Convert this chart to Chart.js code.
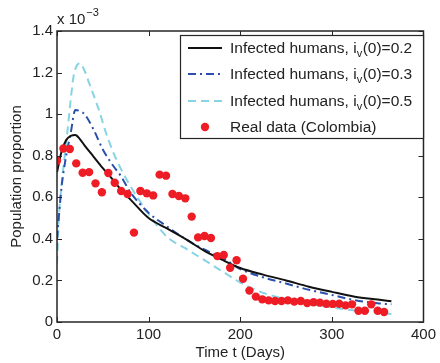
<!DOCTYPE html>
<html>
<head>
<meta charset="utf-8">
<script src="https://cdn.jsdelivr.net/npm/chart.js@4.4.1/dist/chart.umd.min.js"></script>
<style>
  html, body { margin: 0; padding: 0; background: #fff; }
  canvas { display: block; }
</style>
</head>
<body>
<canvas id="myChart" width="440" height="363"></canvas>
<script>
// values are in units of 10^-3 (see the axis multiplier)
const modelDays = [0, 5, 10, 15, 20, 25, 30, 40, 50, 60, 70, 80, 100, 120, 140, 160, 180, 200, 225, 250, 275, 300, 325, 350, 365];
const infectedIv02 = [0.72, 0.82, 0.875, 0.895, 0.90, 0.88, 0.85, 0.795, 0.74, 0.69, 0.635, 0.59, 0.50, 0.45, 0.40, 0.345, 0.30, 0.26, 0.228, 0.20, 0.17, 0.145, 0.122, 0.108, 0.10];
const infectedIv03 = [0.40, 0.65, 0.80, 0.91, 1.02, 1.015, 1.00, 0.925, 0.83, 0.76, 0.70, 0.625, 0.525, 0.46, 0.40, 0.35, 0.31, 0.255, 0.215, 0.185, 0.155, 0.13, 0.105, 0.09, 0.085];

const modelDays05 = [0, 2, 5, 10, 15, 18, 25, 30, 35, 45, 55, 65, 80, 100, 120, 140, 160, 180, 200, 225, 250, 275, 300, 325, 350, 365];
const infectedIv05 = [0.28, 0.50, 0.66, 0.86, 1.07, 1.18, 1.245, 1.21, 1.15, 1.03, 0.89, 0.78, 0.655, 0.52, 0.41, 0.355, 0.30, 0.245, 0.19, 0.14, 0.11, 0.088, 0.07, 0.055, 0.045, 0.038];

const realDays = [0, 7, 14, 21, 28, 35, 42, 49, 56, 63, 70, 77, 84, 91, 98, 105, 112, 119, 126, 133, 140, 147, 154, 161, 168, 175, 182, 189, 196, 203,
                  210, 217, 224, 231, 238, 245, 252, 259, 266, 273, 280, 287, 294, 301, 308, 315, 322, 329, 336, 343, 350, 357];
const realColombia = [0.776, 0.835, 0.832, 0.763, 0.718, 0.721, 0.667, 0.624, 0.717, 0.670, 0.630, 0.616, 0.430, 0.630, 0.619, 0.609, 0.709, 0.704, 0.616, 0.606, 0.595, 0.507, 0.407, 0.414, 0.404, 0.317, 0.322, 0.261, 0.297, 0.208,
                      0.151, 0.122, 0.109, 0.104, 0.101, 0.101, 0.104, 0.098, 0.101, 0.091, 0.095, 0.093, 0.088, 0.087, 0.088, 0.080, 0.085, 0.054, 0.054, 0.085, 0.054, 0.048];

const xTicks = [0, 100, 200, 300, 400];
const yTicks = [0, 0.2, 0.4, 0.6, 0.8, 1, 1.2, 1.4];

const legendLabels = ["0.2", "0.3", "0.5"];

const FONT = "'Liberation Sans', Arial, sans-serif";
const INK = "#222";

function toPoints(xs, ys) {
    return xs.map((x, i) => ({ x: x, y: ys[i] }));
}

const lineStyles = [
    { color: "#111111", dash: [] },
    { color: "#2a50ab", dash: [8, 4, 2, 4] },
    { color: "#86d4e4", dash: [8, 5] }
];
const dotColor = "#ee1c25";

// frame with inward ticks on all four sides, axis multiplier, titles and legend
const decorPlugin = {
    id: "decor",
    afterDraw(chart) {
        const ctx = chart.ctx;
        const a = chart.chartArea;
        const sx = chart.scales.x, sy = chart.scales.y;
        ctx.save();
        ctx.strokeStyle = "#262626";
        ctx.lineWidth = 1.5;
        ctx.setLineDash([]);
        ctx.strokeRect(a.left, a.top, a.right - a.left, a.bottom - a.top);
        ctx.lineWidth = 1;
        ctx.beginPath();
        xTicks.forEach(v => {
            const px = Math.round(sx.getPixelForValue(v)) + 0.5;
            ctx.moveTo(px, a.bottom); ctx.lineTo(px, a.bottom - 5);
            ctx.moveTo(px, a.top); ctx.lineTo(px, a.top + 5);
        });
        yTicks.forEach(v => {
            const py = Math.round(sy.getPixelForValue(v)) + 0.5;
            ctx.moveTo(a.left, py); ctx.lineTo(a.left + 5, py);
            ctx.moveTo(a.right, py); ctx.lineTo(a.right - 5, py);
        });
        ctx.stroke();

        // axis multiplier
        ctx.fillStyle = INK;
        ctx.textAlign = "left";
        ctx.textBaseline = "alphabetic";
        ctx.font = "15px " + FONT;
        ctx.fillText("x 10", a.left, 24);
        const w10 = ctx.measureText("x 10").width;
        ctx.font = "11px " + FONT;
        ctx.fillText("\u22123", a.left + w10 + 1, 16);

        // axis titles
        ctx.font = "15px " + FONT;
        ctx.textAlign = "center";
        ctx.fillText("Time t (Days)", (a.left + a.right) / 2, 357);
        ctx.save();
        ctx.translate(21, (a.top + a.bottom) / 2);
        ctx.rotate(-Math.PI / 2);
        ctx.fillText("Population proportion", 0, 0);
        ctx.restore();

        // legend
        const lx = 180, ly = 35, lw = 243, lh = 103;
        ctx.fillStyle = "#fff";
        ctx.fillRect(lx, ly, lw, lh);
        ctx.strokeStyle = "#262626";
        ctx.lineWidth = 1.2;
        ctx.strokeRect(lx + 0.5, ly + 0.5, lw, lh);
        const rows = [48, 74, 101, 127];
        ctx.lineWidth = 2;
        for (let i = 0; i < 3; i++) {
            const y = rows[i];
            ctx.strokeStyle = lineStyles[i].color;
            ctx.setLineDash(lineStyles[i].dash);
            ctx.beginPath();
            ctx.moveTo(188, y); ctx.lineTo(222, y);
            ctx.stroke();
            ctx.setLineDash([]);
            ctx.fillStyle = INK;
            ctx.textAlign = "left";
            ctx.font = "15.5px " + FONT;
            let tx = 230;
            const base = y + 5;
            ctx.fillText("Infected humans, i", tx, base);
            tx += ctx.measureText("Infected humans, i").width;
            ctx.font = "11px " + FONT;
            ctx.fillText("v", tx, base + 4);
            tx += ctx.measureText("v").width + 0.5;
            ctx.font = "15.5px " + FONT;
            ctx.fillText("(0)=" + legendLabels[i], tx, base);
        }
        ctx.fillStyle = dotColor;
        ctx.beginPath();
        ctx.arc(205, rows[3], 4.2, 0, Math.PI * 2);
        ctx.fill();
        ctx.fillStyle = INK;
        ctx.font = "15.5px " + FONT;
        ctx.fillText("Real data (Colombia)", 230, rows[3] + 5);
        ctx.restore();
    }
};

new Chart("myChart", {
    type: "scatter",
    data: {
        datasets: [
            {
                label: "Real data (Colombia)",
                data: toPoints(realDays, realColombia),
                backgroundColor: dotColor,
                borderWidth: 0,
                pointRadius: 4.2,
                order: 0
            },
            {
                label: "Infected humans, iv(0)=0.2",
                data: toPoints(modelDays, infectedIv02),
                showLine: true,
                borderColor: lineStyles[0].color,
                borderWidth: 2,
                pointRadius: 0,
                cubicInterpolationMode: "monotone",
                order: 1
            },
            {
                label: "Infected humans, iv(0)=0.3",
                data: toPoints(modelDays, infectedIv03),
                showLine: true,
                borderColor: lineStyles[1].color,
                borderDash: lineStyles[1].dash,
                borderWidth: 2,
                pointRadius: 0,
                cubicInterpolationMode: "monotone",
                order: 2
            },
            {
                label: "Infected humans, iv(0)=0.5",
                data: toPoints(modelDays05, infectedIv05),
                showLine: true,
                borderColor: lineStyles[2].color,
                borderDash: lineStyles[2].dash,
                borderWidth: 2,
                pointRadius: 0,
                cubicInterpolationMode: "monotone",
                order: 3
            }
        ]
    },
    options: {
        responsive: false,
        animation: false,
        devicePixelRatio: 1,
        layout: { padding: { top: 31, right: 13, left: 0, bottom: 0 } },
        plugins: {
            legend: { display: false },
            tooltip: { enabled: false }
        },
        scales: {
            x: {
                type: "linear",
                min: 0,
                max: 400,
                afterBuildTicks: s => { s.ticks = xTicks.map(v => ({ value: v })); },
                afterFit: s => { s.height = 41; },
                grid: { display: false, drawTicks: false },
                border: { display: false },
                ticks: { color: INK, font: { family: FONT, size: 15 }, padding: 4, maxRotation: 0 }
            },
            y: {
                type: "linear",
                min: 0,
                max: 1.4,
                afterBuildTicks: s => { s.ticks = yTicks.map(v => ({ value: v })); },
                afterFit: s => { s.width = 57; },
                grid: { display: false, drawTicks: false },
                border: { display: false },
                ticks: {
                    color: INK,
                    font: { family: FONT, size: 15 },
                    padding: 4,
                    callback: v => String(Math.round(v * 10) / 10)
                }
            }
        }
    },
    plugins: [decorPlugin]
});
</script>
</body>
</html>
